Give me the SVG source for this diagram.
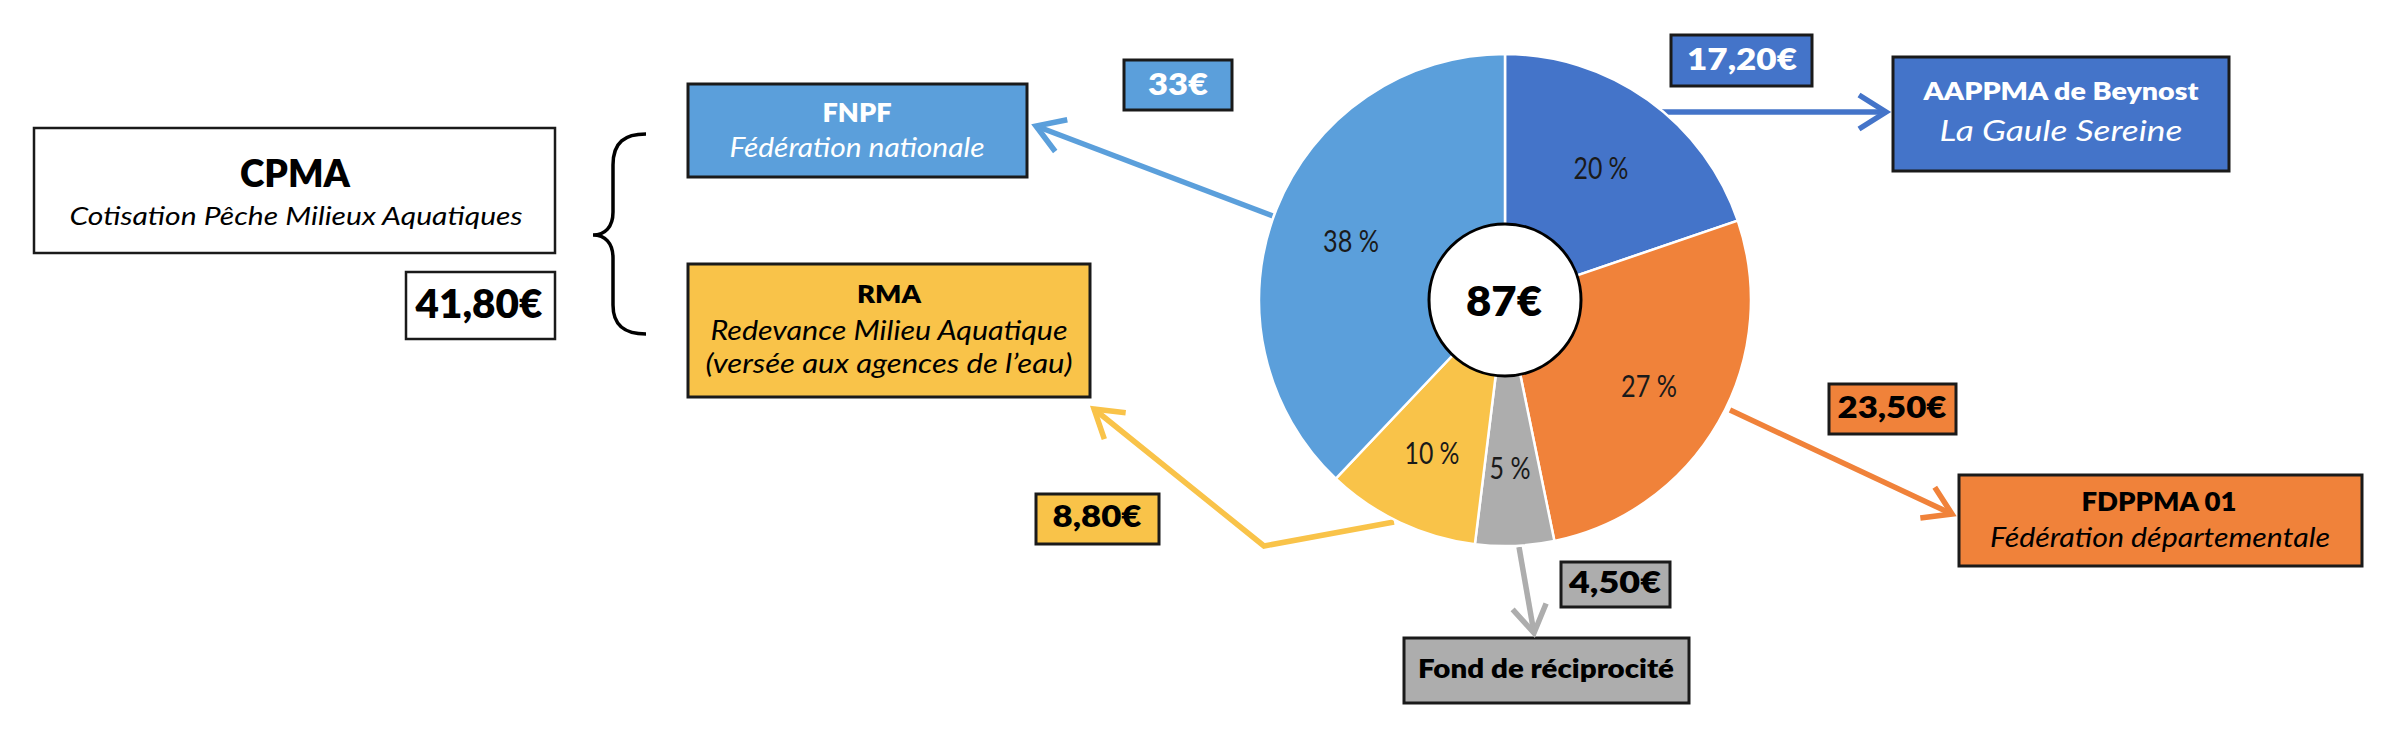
<svg xmlns="http://www.w3.org/2000/svg" width="2396" height="738" viewBox="0 0 2396 738">
<style>
text{font-family:Lato,"Open Sans","Liberation Sans",sans-serif;text-anchor:middle}
.b{font-weight:700}
.h{font-weight:800}
.i{font-style:italic}
.w{fill:#ffffff}
.k{fill:#000000}
.box{stroke:#1a1a1a;stroke-width:3}
.lb{fill:#5B9FDB}
.db{fill:#4474C9}
.or{fill:#F0823A}
.gr{fill:#ADADAD}
.ye{fill:#F9C349}
.pct{font-size:30px;fill:#1a1a1a}
.slice{stroke:#ffffff;stroke-width:2.5}
.con{fill:none;stroke-width:5.5}
</style>
<defs>
<marker id="mLb" markerUnits="userSpaceOnUse" orient="auto" refX="0" refY="0" markerWidth="60" markerHeight="60" overflow="visible"><path d="M-27,-17 L0,0 L-27,17" fill="none" stroke="#5B9FDB" stroke-width="5.5"/></marker>
<marker id="mDb" markerUnits="userSpaceOnUse" orient="auto" refX="0" refY="0" markerWidth="60" markerHeight="60" overflow="visible"><path d="M-27,-17 L0,0 L-27,17" fill="none" stroke="#4474C9" stroke-width="5.5"/></marker>
<marker id="mOr" markerUnits="userSpaceOnUse" orient="auto" refX="0" refY="0" markerWidth="60" markerHeight="60" overflow="visible"><path d="M-27,-17 L0,0 L-27,17" fill="none" stroke="#F0823A" stroke-width="5.5"/></marker>
<marker id="mGr" markerUnits="userSpaceOnUse" orient="auto" refX="0" refY="0" markerWidth="60" markerHeight="60" overflow="visible"><path d="M-27,-17 L0,0 L-27,17" fill="none" stroke="#ADADAD" stroke-width="5.5"/></marker>
<marker id="mYe" markerUnits="userSpaceOnUse" orient="auto" refX="0" refY="0" markerWidth="60" markerHeight="60" overflow="visible"><path d="M-27,-17 L0,0 L-27,17" fill="none" stroke="#F9C349" stroke-width="5.5"/></marker>
</defs>
<rect width="2396" height="738" fill="#ffffff"/>

<g id="cpma">
<rect x="34" y="128" width="521" height="125" fill="#ffffff" stroke="#1a1a1a" stroke-width="2.5"/>
<text x="295" y="187" class="h k" font-size="38" textLength="110" lengthAdjust="spacingAndGlyphs">CPMA</text>
<text x="296" y="225" class="i k" font-size="26" textLength="453" lengthAdjust="spacingAndGlyphs">Cotisation Pêche Milieux Aquatiques</text>
</g>
<g id="cpma-amount">
<rect x="406" y="272" width="149" height="67" fill="#ffffff" stroke="#1a1a1a" stroke-width="2.5"/>
<text x="479" y="318" class="h k" font-size="40" textLength="127" lengthAdjust="spacingAndGlyphs">41,80€</text>
</g>
<g id="brace">
<path d="M646,134 C625,134 613,142 613,165 L613,212 C613,227 605,235 593,235 C605,235 613,243 613,258 L613,305 C613,326 625,334 646,334" fill="none" stroke="#000000" stroke-width="3.5"/>
</g>

<g id="fnpf">
<rect x="688" y="84" width="339" height="93" class="box lb"/>
<text x="857" y="122" class="h w" font-size="26" textLength="69" lengthAdjust="spacingAndGlyphs">FNPF</text>
<text x="857" y="157" class="i w" font-size="27" textLength="255" lengthAdjust="spacingAndGlyphs">Fédération nationale</text>
</g>
<g id="fnpf-amount">
<rect x="1124" y="60" width="108" height="50" class="box lb"/>
<text x="1178" y="95" class="h w" font-size="30" textLength="60" lengthAdjust="spacingAndGlyphs">33€</text>
</g>

<g id="rma">
<rect x="688" y="264" width="402" height="133" class="box ye"/>
<text x="889" y="303" class="h k" font-size="25" textLength="64" lengthAdjust="spacingAndGlyphs">RMA</text>
<text x="889" y="340" class="i k" font-size="27" textLength="357" lengthAdjust="spacingAndGlyphs">Redevance Milieu Aquatique</text>
<text x="889" y="373" class="i k" font-size="27" textLength="367" lengthAdjust="spacingAndGlyphs">(versée aux agences de l’eau)</text>
</g>
<g id="rma-amount">
<rect x="1036" y="494" width="123" height="50" class="box ye"/>
<text x="1097" y="527" class="h k" font-size="30" textLength="89" lengthAdjust="spacingAndGlyphs">8,80€</text>
</g>

<g id="aappma">
<rect x="1893" y="57" width="336" height="114" class="box db"/>
<text x="2061" y="100" class="h w" font-size="25" textLength="275" lengthAdjust="spacingAndGlyphs">AAPPMA de Beynost</text>
<text x="2061" y="141" class="i w" font-size="29" textLength="243" lengthAdjust="spacingAndGlyphs">La Gaule Sereine</text>
</g>
<g id="aappma-amount">
<rect x="1671" y="35" width="141" height="51" class="box db"/>
<text x="1742" y="70" class="h w" font-size="31" textLength="110" lengthAdjust="spacingAndGlyphs">17,20€</text>
</g>

<g id="fdppma">
<rect x="1959" y="475" width="403" height="91" class="box or"/>
<text x="2159" y="511" class="h k" font-size="26" textLength="155" lengthAdjust="spacingAndGlyphs">FDPPMA 01</text>
<text x="2160" y="547" class="i k" font-size="27" textLength="340" lengthAdjust="spacingAndGlyphs">Fédération départementale</text>
</g>
<g id="fdppma-amount">
<rect x="1829" y="384" width="127" height="50" class="box or"/>
<text x="1892" y="418" class="h k" font-size="31" textLength="109" lengthAdjust="spacingAndGlyphs">23,50€</text>
</g>

<g id="fond">
<rect x="1404" y="638" width="285" height="65" class="box gr"/>
<text x="1546" y="678" class="h k" font-size="26" textLength="256" lengthAdjust="spacingAndGlyphs">Fond de réciprocité</text>
</g>
<g id="fond-amount">
<rect x="1561" y="562" width="109" height="45" class="box gr"/>
<text x="1615" y="593" class="h k" font-size="30" textLength="92" lengthAdjust="spacingAndGlyphs">4,50€</text>
</g>

<g id="connectors">
<line x1="1273" y1="216" x2="1036" y2="126" class="con" stroke="#5B9FDB" marker-end="url(#mLb)"/>
<line x1="1662" y1="112" x2="1886" y2="112" class="con" stroke="#4474C9" marker-end="url(#mDb)"/>
<line x1="1730" y1="410" x2="1952" y2="514" class="con" stroke="#F0823A" marker-end="url(#mOr)"/>
<line x1="1519" y1="547" x2="1534" y2="633" class="con" stroke="#ADADAD" marker-end="url(#mGr)"/>
<polyline points="1394,522 1264,546 1094,409" class="con" stroke="#F9C349" marker-end="url(#mYe)"/>
</g>

<g id="pie">
<path d="M1505,300 L1505,54 A246,246 0 0 1 1737.8,220.6 Z" class="slice db"/>
<path d="M1505,300 L1737.8,220.6 A246,246 0 0 1 1554.4,541.0 Z" class="slice or"/>
<path d="M1505,300 L1554.4,541.0 A246,246 0 0 1 1474.9,544.2 Z" class="slice gr"/>
<path d="M1505,300 L1474.9,544.2 A246,246 0 0 1 1335.8,478.6 Z" class="slice ye"/>
<path d="M1505,300 L1335.8,478.6 A246,246 0 0 1 1505,54 Z" class="slice lb"/>
<text x="1601" y="179" class="pct" textLength="55" lengthAdjust="spacingAndGlyphs">20 %</text>
<text x="1649" y="397" class="pct" textLength="56" lengthAdjust="spacingAndGlyphs">27 %</text>
<text x="1510" y="479" class="pct" textLength="41" lengthAdjust="spacingAndGlyphs">5 %</text>
<text x="1432" y="464" class="pct" textLength="55" lengthAdjust="spacingAndGlyphs">10 %</text>
<text x="1351" y="252" class="pct" textLength="56" lengthAdjust="spacingAndGlyphs">38 %</text>
</g>
<g id="center">
<circle cx="1505" cy="300" r="76" fill="#ffffff" stroke="#000000" stroke-width="3"/>
<text x="1504" y="316" class="h k" font-size="42" textLength="76" lengthAdjust="spacingAndGlyphs">87€</text>
</g>
</svg>
